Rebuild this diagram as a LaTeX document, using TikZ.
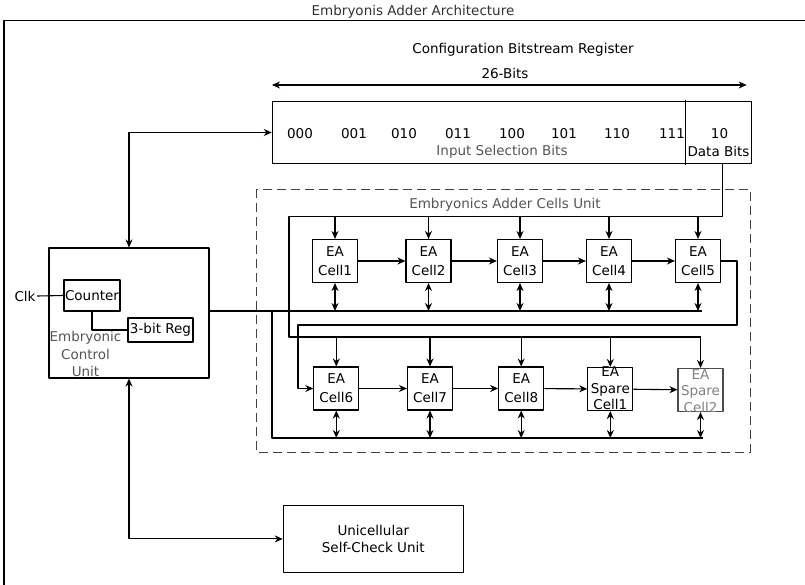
\documentclass[tikz,border=0pt]{standalone}
\usepackage{fontspec}
\setmainfont{DejaVu Sans}
\usetikzlibrary{arrows.meta}
\definecolor{txtgray}{HTML}{555555}
\definecolor{lightgray}{HTML}{808080}
\begin{document}
\begin{tikzpicture}[x=1pt, y=-1pt, line width=1.1pt,
            line join=round, >={Stealth[length=8pt,width=7pt]},
            font=\fontsize{13.5}{17}\selectfont,
            unit/.style={draw, inner sep=0pt, align=center},
            cell/.style={draw, minimum width=45pt, minimum height=43pt,
              inner sep=0pt, align=center, font=\fontsize{13.5}{19}\selectfont},
            celltext/.style={align=center, inner sep=0pt, font=\fontsize{13.5}{16.5}\selectfont}]
            \useasboundingbox (0,0) rectangle (805,585);
            \draw (4,590) -- (4,20.5) -- (810,20.5);
            \node[anchor=base, text=black!80] (title) at (413,15.5) {Embryonis Adder Architecture};
            % bitstream register
            \node[anchor=base] (cbr) at (523,54) {Configuration Bitstream Register};
            \node[anchor=base] (nbits) at (505,79) {26-Bits};
            \coordinate (bl) at (272,85);
            \coordinate (br) at (746.7,85);
            \draw[<->] (bl) -- (br);
            \node[unit, minimum width=479pt, minimum height=61.6pt] (reg) at (511.8,132.5) {};
            \draw (685.7,100) -- (685.7,165);
            \foreach \x/\b in {300/000,354/001,404/010,458/011,512/100,564/101,617/110,672/111}
                \node[anchor=base] (bit\b) at (\x,138.5) {\b};
            \node[anchor=base] (ten) at (719.5,138.5) {10};
            \node[anchor=base, text=txtgray] (isb) at (502,155.5) {Input Selection Bits};
            \node[anchor=base] (dbits) at (718.5,156.7) {Data Bits};
            % cells unit
            \draw[line width=1pt, black!75, dash pattern=on 9pt off 5pt] (256.7,189.3) rectangle (750,452.7);
            \node[anchor=base, text=txtgray] (eacu) at (505,209) {Embryonics Adder Cells Unit};
            \foreach \n/\x in {1/335,2/428.5,3/520,4/609,5/698}
                \node[cell] (c\n) at (\x,261) {EA\\Cell\n};
            \foreach \n/\x in {6/336.3,7/430,8/521.2}
                \node[cell] (c\n) at (\x,388.5) {EA\\Cell\n};
            \node[cell] (sp1) at (610.3,389) {};
            \node[cell, draw=black!70] (sp2) at (700.5,390) {};
            \begin{scope}
                \clip (sp1.south west) rectangle (sp1.north east);
                \node[celltext] (sp1t) at (610.3,388.5) {EA\\Spare\\Cell1};
            \end{scope}
            \begin{scope}
                \clip (sp2.south west) rectangle (sp2.north east);
                \node[celltext, text=lightgray] (sp2t) at (700.5,391) {EA\\Spare\\Cell2};
            \end{scope}
            \foreach \a/\b in {c1/c2,c2/c3,c3/c4,c4/c5,c6/c7,c7/c8,c8/sp1,sp1/sp2}
                \draw[->] (\a) -- (\b);
            % configuration feed
            \coordinate (f1) at (722.3,216.7);
            \coordinate (f2) at (701,337);
            \draw (f1 |- reg.south) -- (f1) -- (289,216.7) |- (f2);
            \foreach \n in {c1,c2,c3,c4,c5}
                \draw[->] (\n.north |- f1) -- (\n.north);
            \foreach \n in {c6,c7,c8,sp1,sp2}
                \draw[->] (\n.north |- f2) -- (\n.north);
            \draw[->] (c5.east) -| (737,325) -- (298,325) |- (c6.west);
            % control unit
            \node[unit, minimum width=160pt, minimum height=130pt] (ecu) at (129,313) {};
            \node[unit, minimum width=56pt, minimum height=31pt] (cnt) at (92,295.5) {Counter};
            \node[unit, minimum width=65pt, minimum height=24pt] (breg) at (160.5,330) {3-bit Reg};
            \node[align=center, inner sep=0pt, text=txtgray, font=\fontsize{13.5}{17.5}\selectfont] (ecul) at (85.5,354) {Embryonic\\Control\\Unit};
            \node[inner sep=1pt] (clk) at (25,296) {Clk};
            \draw (clk.east) -- (cnt.west);
            \draw (cnt.south) |- (breg.west);
            \coordinate (b1) at (702,311);
            \coordinate (j) at (272,311);
            \coordinate (b2) at (703,438);
            \draw (ecu.east |- b1) -- (b1);
            \draw (j) |- (b2);
            \foreach \n in {c1,c2,c3,c4,c5}
                \draw[<->] (\n.south) -- (\n.south |- b1);
            \foreach \n in {c6,c7,c8,sp1,sp2}
                \draw[<->] (\n.south) -- (\n.south |- b2);
            \draw[<->] (ecu.north) |- (reg.west);
            % self check
            \node[unit, minimum width=180pt, minimum height=67.7pt] (usc) at (373.3,538.9) {Unicellular\\Self-Check Unit};
            \draw[<->] (ecu.south) |- (usc.west);
\end{tikzpicture}
\end{document}
